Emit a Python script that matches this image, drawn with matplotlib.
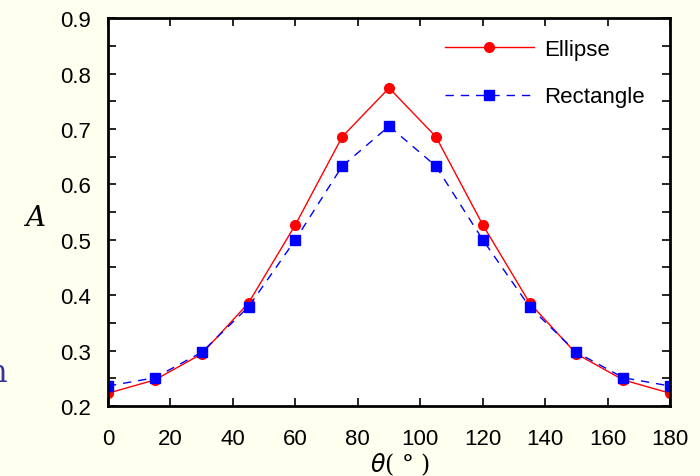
import matplotlib
matplotlib.use("Agg")
import matplotlib.pyplot as plt
from matplotlib.ticker import MultipleLocator

theta = [0, 15, 30, 45, 60, 75, 90, 105, 120, 135, 150, 165, 180]
ellipse = [0.223, 0.247, 0.294, 0.386, 0.527, 0.686, 0.774, 0.686, 0.527, 0.386, 0.294, 0.247, 0.223]
rectangle = [0.236, 0.251, 0.297, 0.379, 0.500, 0.633, 0.705, 0.633, 0.500, 0.379, 0.297, 0.251, 0.236]

plt.rcParams['font.family'] = ['Liberation Sans', 'DejaVu Sans']

fig = plt.figure(figsize=(7, 4.77), dpi=100, facecolor='#FFFFF0')
ax = fig.add_axes([0.1543, 0.1468, 0.803, 0.813])
ax.set_facecolor('white')

ax.plot(theta, ellipse, color='red', lw=1, marker='o', ms=7, label='Ellipse')
ax.plot(theta, rectangle, color='blue', lw=1, ls=(0, (6, 5)), marker='s', ms=7, label='Rectangle')

ax.set_xlim(0, 180)
ax.set_ylim(0.2, 0.9)
ax.xaxis.set_major_locator(MultipleLocator(20))
ax.yaxis.set_major_locator(MultipleLocator(0.1))
ax.yaxis.set_minor_locator(MultipleLocator(0.05))
ax.tick_params(which='both', direction='in', top=True, right=True, width=1.2, length=6, labelsize=16)
ax.tick_params(axis='x', pad=16)
ax.tick_params(axis='y', pad=12)
for s in ax.spines.values():
    s.set_linewidth(2)

ax.set_xlabel(r'$\theta$' + '( ° )', fontsize=17, family=['DejaVu Serif'])
ax.xaxis.set_label_coords(0.52, -0.115)
ax.set_ylabel('A', fontsize=20, family=['DejaVu Serif'], style='italic', rotation=0)
ax.yaxis.set_label_coords(-0.13, 0.45)

leg = ax.legend(loc='upper right', frameon=False, fontsize=16, handlelength=4.0,
                handletextpad=0.45, labelspacing=1.2, bbox_to_anchor=(0.97, 0.97), borderaxespad=0)

fig.text(-0.018, 0.2, 'n', color='#333399', fontsize=22, family='DejaVu Serif')

fig.savefig('out.png', dpi=100, facecolor=fig.get_facecolor())
